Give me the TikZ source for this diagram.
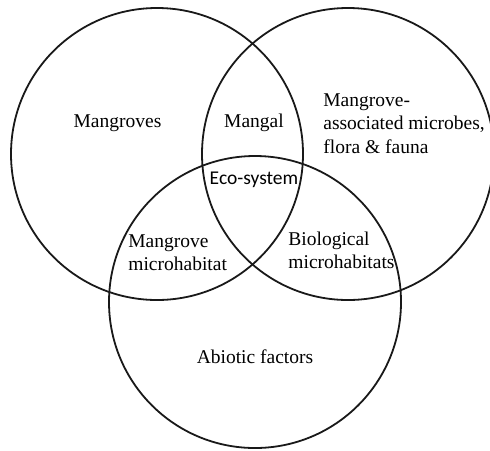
\documentclass[tikz,border=0pt]{standalone}
\usepackage{fontspec}
\setmainfont{Liberation Serif}
\newfontfamily\calfont{Carlito}
\begin{document}
\begin{tikzpicture}[x=0.5pt,y=-0.5pt,
  ring/.style={circle,draw=black!90,line width=0.9pt,minimum size=146pt,inner sep=0pt},
  lbl/.style={inner sep=0pt,font=\fontsize{9.75}{11.75}\selectfont},
  lblL/.style={lbl,align=left,anchor=west}]
\useasboundingbox (0,0) rectangle (490,450);
\clip (0,0) rectangle (490,450);
% three overlapping sets
\node[ring] (mang) at (157,154) {};
\node[ring] (biota) at (348,154) {};
\node[ring] (abio) at (255,302) {};
% region labels
\node[lbl] (tMangroves) at (117.5,123) {Mangroves};
\node[lbl] (tMangal) at (254,123) {Mangal};
\node[lblL] (tAssoc) at (323,123.5) {Mangrove-\\associated microbes,\\flora \& fauna};
\node[lbl,font=\calfont\fontsize{9.75}{11.75}\selectfont] (tEco) at (254,180) {Eco-system};
\node[lblL] (tMicro) at (128,252.5) {Mangrove\\microhabitat};
\node[lblL] (tBio) at (288,250.5) {Biological\\microhabitats};
\node[lbl] (tAbiotic) at (255,357) {Abiotic factors};
\end{tikzpicture}
\end{document}
